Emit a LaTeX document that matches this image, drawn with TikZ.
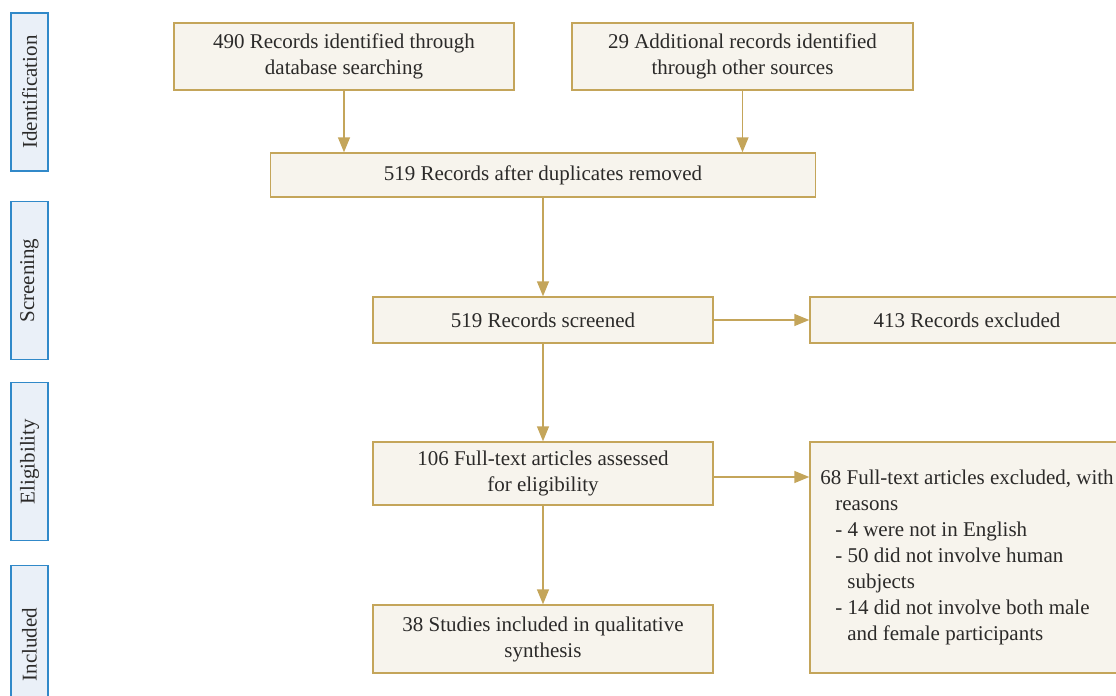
\documentclass[tikz,border=0pt]{standalone}
\usepackage{fontspec}
\setmainfont{Liberation Serif}
\usetikzlibrary{arrows.meta}

\definecolor{boxline}{HTML}{C4A55A}
\definecolor{boxfill}{HTML}{F7F4ED}
\definecolor{phaseline}{HTML}{3189C9}
\definecolor{phasefill}{HTML}{EAF0F8}
\definecolor{ink}{HTML}{2B2A29}

\tikzset{
  flowbox/.style={draw=boxline, fill=boxfill, line width=0.7pt, align=center,
    text=ink, font=\fontsize{10.5}{13}\selectfont, inner sep=2pt},
  phasebox/.style={draw=phaseline, fill=phasefill, line width=0.6pt, rotate=90,
    text=ink, font=\fontsize{10.5}{13}\selectfont, minimum width=79pt,
    minimum height=18.5pt, inner sep=0pt},
  flow/.style={draw=boxline, line width=0.7pt, -{Triangle[length=7.5pt,width=6pt]}}
}

\begin{document}
\begin{tikzpicture}[x=0.5pt,y=-0.5pt]

\def\phase(#1,#2,#3){
  \node[phasebox] (#1) at (29.5,#2) {#3};
}

\useasboundingbox (0,0) rectangle (1116,696);
\clip (0,0) rectangle (1116,696);

\phase(ident,92,Identification)
\phase(screen,280.5,Screening)
\phase(elig,461.5,Eligibility)
\phase(incl,644.5,Included)

\node[flowbox, minimum width=170pt, minimum height=33.5pt] (dbrec) at (344,56.5)
  {490 Records identified through\\database searching};
\node[flowbox, minimum width=170.5pt, minimum height=33.5pt] (otherrec) at (742.5,56.5)
  {29 Additional records identified\\through other sources};
\node[flowbox, minimum width=272.5pt, minimum height=22pt] (dedup) at (543,175)
  {519 Records after duplicates removed};
\node[flowbox, minimum width=170pt, minimum height=23pt] (screened) at (543,320)
  {519 Records screened};
\node[flowbox, minimum width=157pt, minimum height=23pt] (recexcl) at (967,320)
  {413 Records excluded};
\node[flowbox, minimum width=170pt, minimum height=31.5pt] (fulltext) at (543,473.5)
  {106 Full-text articles assessed\\for eligibility};
\node[flowbox, minimum width=157pt, minimum height=115.5pt, align=left] (ftexcl)
  at (967,557.5)
  {68 Full-text articles excluded, with\\
   \hspace*{7.5pt}reasons\\
   \hspace*{7.5pt}- 4 were not in English\\
   \hspace*{7.5pt}- 50 did not involve human\\
   \hspace*{13.5pt}subjects\\
   \hspace*{7.5pt}- 14 did not involve both male\\
   \hspace*{13.5pt}and female participants};
\node[flowbox, minimum width=170pt, minimum height=34pt] (included) at (543,639)
  {38 Studies included in qualitative\\synthesis};

% connectors
\draw[flow] (dbrec) -- (dbrec |- dedup.north);
\draw[flow] (otherrec) -- (otherrec |- dedup.north);
\draw[flow] (dedup) -- (screened);
\draw[flow] (screened) -- (recexcl);
\draw[flow] (screened) -- (fulltext);
\draw[flow] ([yshift=-1.75pt]fulltext.east) -- ([yshift=-1.75pt]fulltext.east -| ftexcl.west);
\draw[flow] (fulltext) -- (included);

\end{tikzpicture}
\end{document}
